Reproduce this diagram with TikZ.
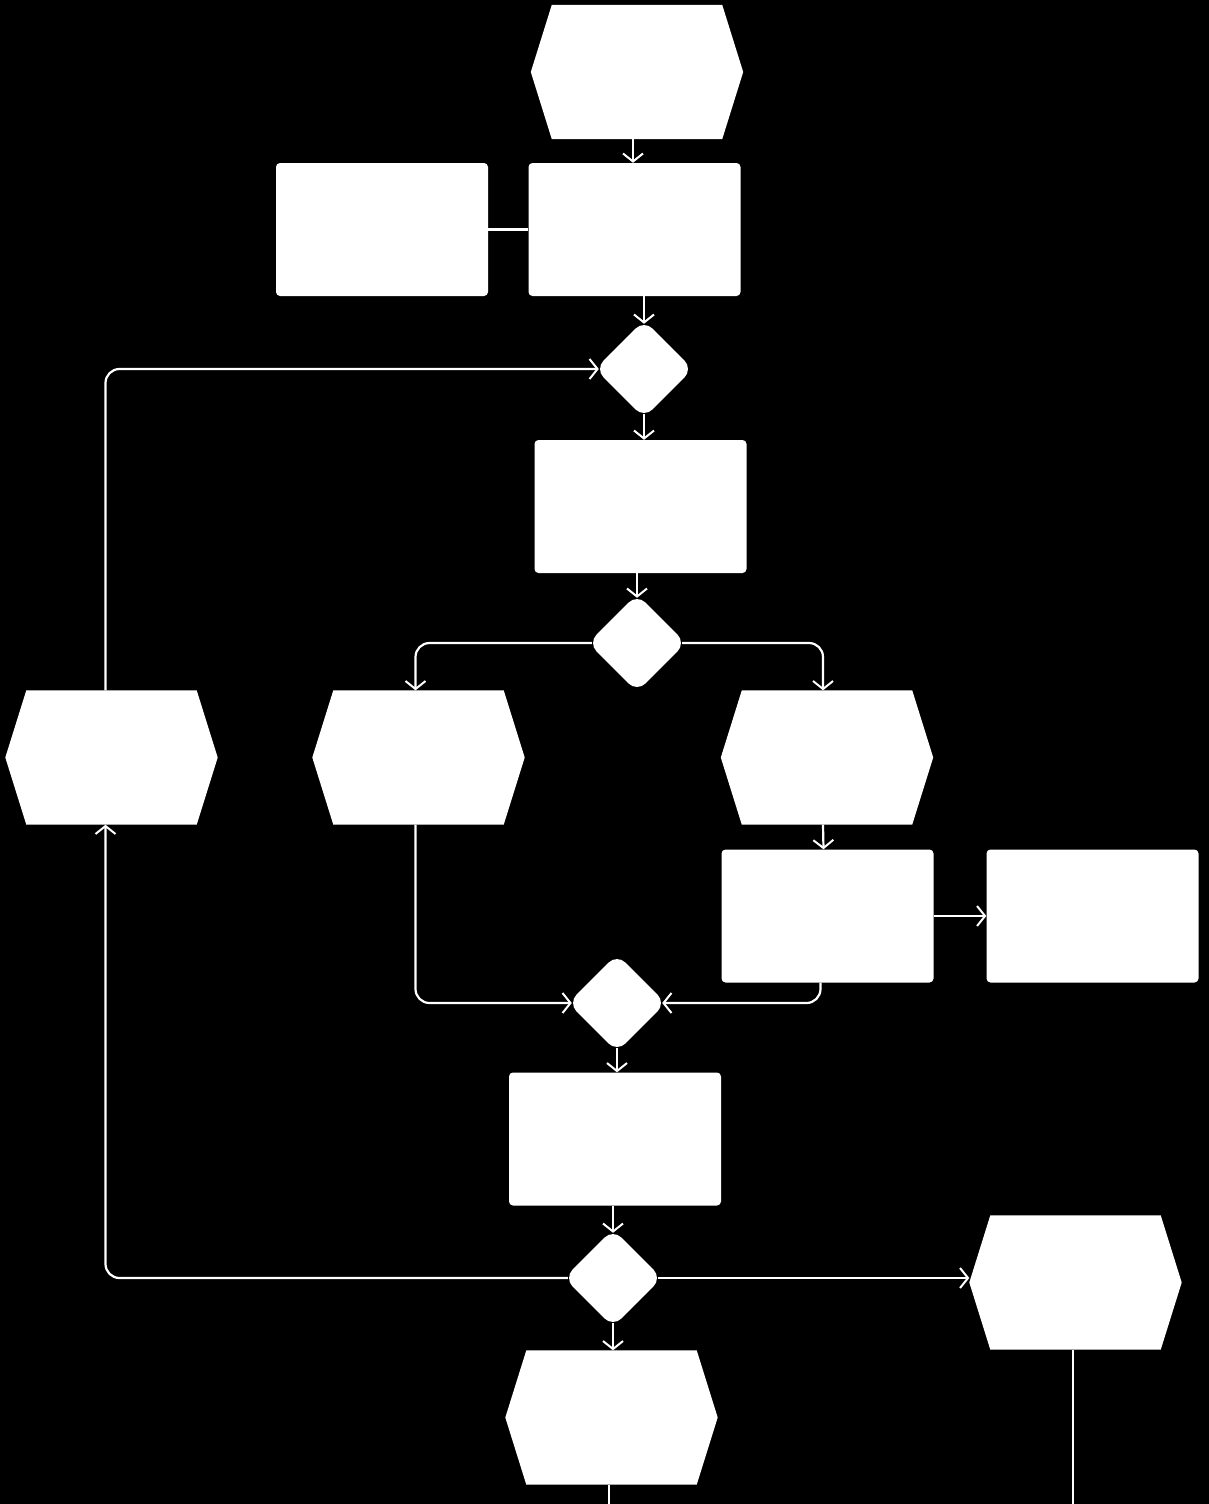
\documentclass[tikz,border=0pt]{standalone}
\usetikzlibrary{arrows.meta,shapes.geometric}
\begin{document}
\begin{tikzpicture}[x=1pt,y=-1pt,
  box/.style={fill=white,rounded corners=4pt,minimum width=212pt,minimum height=133pt,inner sep=0pt},
  hexbox/.style={minimum width=212pt,minimum height=134pt,inner sep=0pt},
  dec/.style={diamond,fill=white,rounded corners=12pt,minimum width=98pt,minimum height=98pt,inner sep=0pt},
  conn/.style={draw=white,line width=2.2pt,rounded corners=14pt},
  arr/.style={conn,-{Straight Barb[length=8pt,width=20pt,line width=2pt]}}]
\fill[black] (0,0) rectangle (1209,1504);
\useasboundingbox (0,0) rectangle (1209,1504);
% hexagon placeholders
\node[hexbox] (h1) at (637,72) {};
\node[hexbox] (hL) at (111.5,757.5) {};
\node[hexbox] (hM) at (418.5,757.5) {};
\node[hexbox] (hR) at (827,757.5) {};
\node[hexbox] (hR2) at (1075.5,1282.5) {};
\node[hexbox] (hB) at (611.5,1417.5) {};
\foreach \n in {h1,hL,hM,hR,hR2,hB}
  \fill[white] ([xshift=21pt]\n.north west) -- ([xshift=-21pt]\n.north east) -- (\n.east)
     -- ([xshift=-21pt]\n.south east) -- ([xshift=21pt]\n.south west) -- (\n.west) -- cycle;
% rectangles
\node[box] (rL) at (382,229.5) {};
\node[box] (rR) at (634.5,229.5) {};
\node[box] (r3) at (640.5,506.5) {};
\node[box] (r4) at (827.5,916) {};
\node[box] (r5) at (1092.5,916) {};
\node[box] (r6) at (615,1139) {};
% decisions
\node[dec] (d1) at (644,369) {};
\node[dec] (d2) at (637,643) {};
\node[dec] (d3) at (617,1003) {};
\node[dec] (d4) at (613,1278) {};
% free ends
\coordinate (eB) at (609,1504);
\coordinate (eR) at (1073,1504);
% connectors
\draw[arr] ([xshift=-4pt]h1.south) -- ([xshift=-4pt]h1.south |- rR.north);
\draw[conn] (rL.east) -- (rR.west);
\draw[arr] (rR.south -| d1.north) -- ([yshift=-4pt]d1.north);
\draw[arr] ([yshift=4pt]d1.south) -- (d1.south |- r3.north);
\draw[arr] (r3.south -| d2.north) -- ([yshift=-4pt]d2.north);
\draw[arr] ([xshift=4pt]d2.west) -| ([xshift=-3pt]hM.north);
\draw[arr] ([xshift=-4pt]d2.east) -| ([xshift=-4pt]hR.north);
\draw[arr] ([xshift=-4pt]hR.south) -- ([xshift=-4pt]r4.north);
\draw[arr] (r4.east) -- (r5.west);
\draw[arr] ([xshift=-3pt]hM.south) |- ([xshift=4pt]d3.west);
\draw[arr] ([xshift=-7pt]r4.south) |- ([xshift=-4pt]d3.east);
\draw[arr] ([yshift=4pt]d3.south) -- (d3.south |- r6.north);
\draw[arr] (r6.south -| d4.north) -- ([yshift=-4pt]d4.north);
\draw[arr] ([xshift=4pt]d4.west) -| ([xshift=-6pt]hL.south);
\draw[arr] ([xshift=-6pt]hL.north) |- ([xshift=4pt]d1.west);
\draw[arr] ([xshift=-4pt]d4.east) -- (d4.east -| hR2.west);
\draw[arr] ([yshift=4pt]d4.south) -- (d4.south |- hB.north);
\draw[conn] (hB.south -| eB) -- (eB);
\draw[conn] (hR2.south -| eR) -- (eR);
\end{tikzpicture}
\end{document}
